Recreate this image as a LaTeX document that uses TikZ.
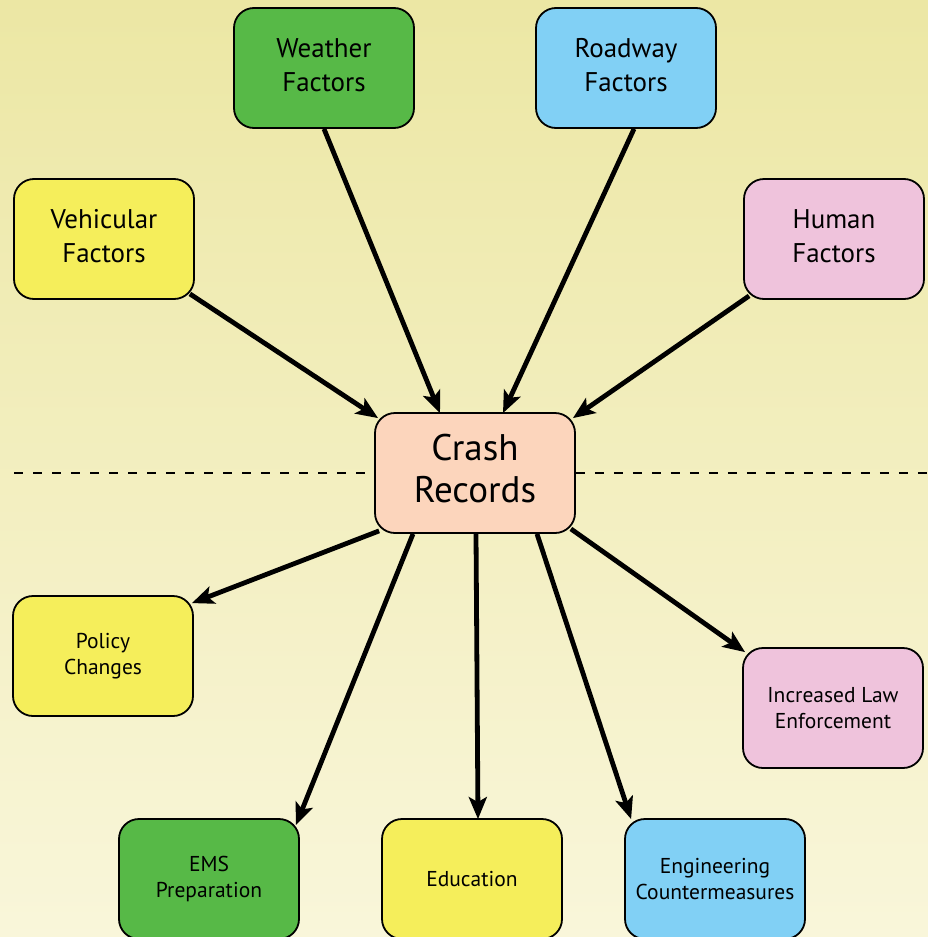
\documentclass[tikz,border=0pt]{standalone}
\usepackage{fontspec}
\setmainfont{PT Sans}
\usetikzlibrary{arrows.meta,calc}
\pgfdeclarelayer{back}
\pgfdeclarelayer{mid}
\pgfsetlayers{back,mid,main}
\definecolor{bgtop}{HTML}{ECE7A4}
\definecolor{bgbot}{HTML}{F9F6DA}
\definecolor{cgreen}{HTML}{57B947}
\definecolor{cblue}{HTML}{81D0F5}
\definecolor{cyellow}{HTML}{F5EE5B}
\definecolor{cpink}{HTML}{EFC3DC}
\definecolor{cpeach}{HTML}{FCD5BC}
\tikzset{
  box/.style={draw=black, line width=1.8pt, rounded corners=20pt, minimum width=180pt, minimum height=120pt, align=center, inner sep=0pt},
  bigtxt/.style={font=\fontsize{27}{34}\selectfont},
  smalltxt/.style={font=\fontsize{21.5}{26}\selectfont},
  conn/.style={line width=4.8pt, -{Stealth[length=22pt,width=18pt,inset=5pt]}},
  divider/.style={line width=2.7pt, dash pattern=on 9pt off 10pt},
}
\begin{document}
\begin{tikzpicture}[x=1pt,y=-1pt]
\begin{pgfonlayer}{back}
\shade[top color=bgtop,bottom color=bgbot] (0,0) rectangle (928,937);
\end{pgfonlayer}
\useasboundingbox (0,0) rectangle (928,937);
\coordinate (dl) at (14,473);
\coordinate (dr) at (928,473);
% nodes
\node[box,fill=cgreen,bigtxt] (weather) at (324,68) {\raisebox{4pt}{\begin{tabular}{@{}c@{}}Weather\\Factors\end{tabular}}};
\node[box,fill=cblue,bigtxt] (roadway) at (626,68) {\raisebox{4pt}{\begin{tabular}{@{}c@{}}Roadway\\Factors\end{tabular}}};
\node[box,fill=cyellow,bigtxt] (veh) at (104,239) {\raisebox{4pt}{\begin{tabular}{@{}c@{}}Vehicular\\Factors\end{tabular}}};
\node[box,fill=cpink,bigtxt] (human) at (834,239) {\raisebox{4pt}{\begin{tabular}{@{}c@{}}Human\\Factors\end{tabular}}};
\node[box,fill=cpeach,minimum width=200pt,font=\fontsize{37}{42}\selectfont] (crash) at (475,473) {\raisebox{2pt}{\begin{tabular}{@{}c@{}}Crash\\Records\end{tabular}}};
\node[box,fill=cyellow,smalltxt] (policy) at (103,656) {Policy\\Changes};
\node[box,fill=cpink,smalltxt] (law) at (833,708) {Increased Law\\Enforcement};
\node[box,fill=cgreen,smalltxt] (ems) at (209,879) {EMS\\Preparation};
\node[box,fill=cyellow,smalltxt] (edu) at (472,879) {Education};
\node[box,fill=cblue,smalltxt] (eng) at (715,879) {Engineering\\Countermeasures};
\begin{pgfonlayer}{mid}
% dashed divider
\draw[divider] (dl) -- (crash.west);
\draw[divider] (crash.east) -- (dr);
% connectors in
\draw[conn] ([xshift=-5pt,yshift=6pt]veh.south east) -- ([xshift=4pt,yshift=-6pt]crash.north west);
\draw[conn] (weather.south) -- ([xshift=-35pt,yshift=-1pt]crash.north);
\draw[conn] ([xshift=8pt]roadway.south) -- ([xshift=28pt,yshift=-1pt]crash.north);
\draw[conn] ([xshift=6pt,yshift=4pt]human.south west) -- ([xshift=-3pt,yshift=-6pt]crash.north east);
% connectors out
\draw[conn] ([xshift=5pt,yshift=3pt]crash.south west) -- ([xshift=-2pt,yshift=-8pt]policy.north east);
\draw[conn] ([xshift=-62pt]crash.south) -- ([xshift=-4pt,yshift=-7pt]ems.north east);
\draw[conn] ([xshift=1pt]crash.south) -- ([xshift=6pt,yshift=-1pt]edu.north);
\draw[conn] ([xshift=62pt]crash.south) -- ([xshift=7pt,yshift=-1pt]eng.north west);
\draw[conn] ([xshift=-5pt,yshift=5pt]crash.south east) -- ([xshift=3pt,yshift=-5pt]law.north west);
\end{pgfonlayer}
\end{tikzpicture}
\end{document}
